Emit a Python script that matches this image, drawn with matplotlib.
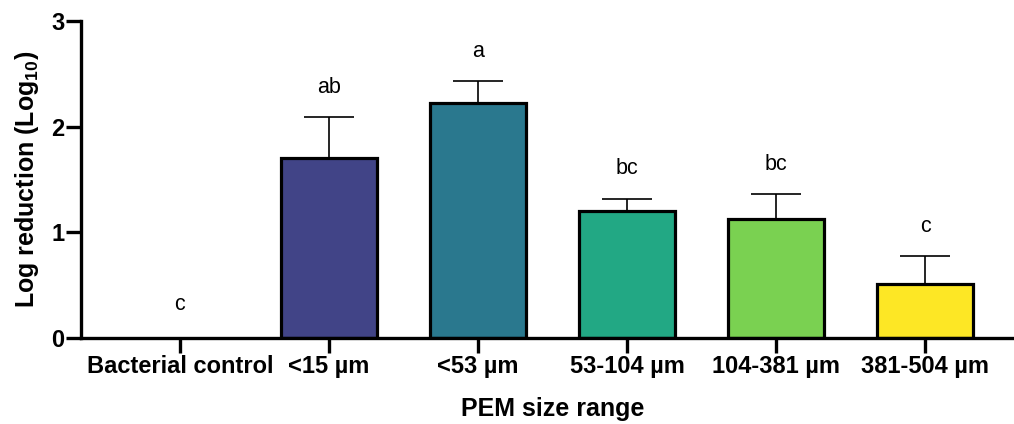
import matplotlib
matplotlib.use("Agg")
import matplotlib.pyplot as plt

plt.rcParams['font.family'] = ['Liberation Sans', 'DejaVu Sans']
plt.rcParams['mathtext.fontset'] = 'custom'
plt.rcParams['mathtext.rm'] = 'Liberation Sans:bold'
plt.rcParams['mathtext.bf'] = 'Liberation Sans:bold'

categories = ["Bacterial control", "<15 µm", "<53 µm", "53-104 µm", "104-381 µm", "381-504 µm"]
means = [0.0, 1.70, 2.22, 1.20, 1.13, 0.51]
errors = [0.0, 0.39, 0.21, 0.12, 0.23, 0.27]
letters = ["c", "ab", "a", "bc", "bc", "c"]
colors = ["#FFFFFF", "#414487", "#2A788E", "#22A884", "#7AD151", "#FDE725"]

fig = plt.figure(figsize=(10.14, 4.24), dpi=100)
ax = fig.add_axes([0.0799, 0.202, 0.9201, 0.749])

x = list(range(len(categories)))
for i in x:
    if means[i] > 0:
        ax.bar(i, means[i], width=0.645, color=colors[i], edgecolor="black",
               linewidth=2.3, zorder=2)
        ax.errorbar(i, means[i], yerr=[[0], [errors[i]]], fmt="none",
                    ecolor="black", elinewidth=1.2, capsize=18, capthick=1.2,
                    zorder=1)
    ax.text(i, means[i] + errors[i] + (0.32 if means[i] == 0 else 0.28), letters[i],
            ha="center", va="center", fontsize=15.5)

xmin, xmax = -0.664, 5.597
ax.set_xlim(xmin, xmax)
ax.set_ylim(0, 3)
ax.set_yticks([0, 1, 2, 3])
ax.set_xticks(x)
ax.set_xticklabels(categories)

for side in ("top", "right"):
    ax.spines[side].set_visible(False)
for side in ("left", "bottom"):
    ax.spines[side].set_linewidth(2.4)
ax.tick_params(axis="both", width=2.4, length=11, labelsize=17)
ax.tick_params(axis="x", pad=1)
ax.tick_params(axis="y", pad=1)
for lbl in ax.get_xticklabels() + ax.get_yticklabels():
    lbl.set_fontweight("bold")

ax.set_ylabel(r"Log reduction (Log$_{10}$)", fontsize=18, fontweight="bold")
ax.yaxis.set_label_coords(-0.058, 0.5)
ax.yaxis.label.set_verticalalignment("center")

# x-axis title centred under the category ticks
mid = (x[0] + x[-1]) / 2
ax.set_xlabel("PEM size range", fontsize=18, fontweight="bold")
ax.xaxis.set_label_coords((mid - xmin) / (xmax - xmin), -0.223)
ax.xaxis.label.set_verticalalignment("center")

fig.savefig("out.png", dpi=100)
